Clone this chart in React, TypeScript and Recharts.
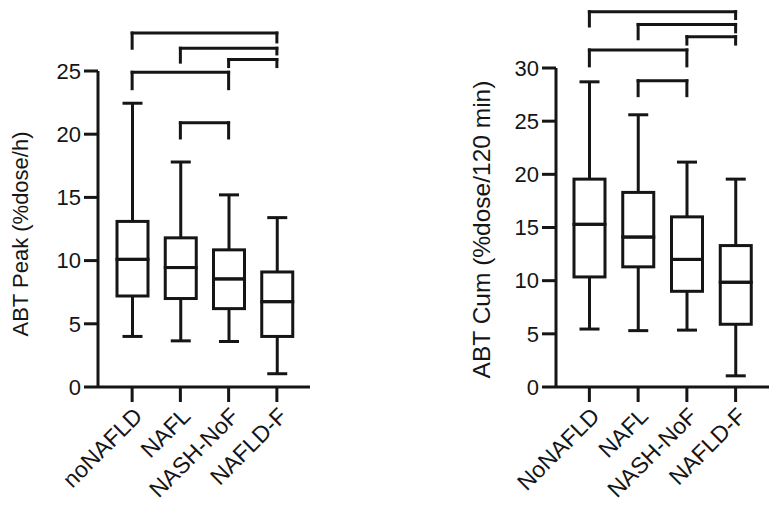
import React from 'react';
import { Bar, ComposedChart, ReferenceLine, XAxis, YAxis } from 'recharts';

const INK = '#151515';
const FONT = '"Liberation Sans", Arial, Helvetica, sans-serif';

// ABT Peak panel
const peakGroups = ['noNAFLD', 'NAFL', 'NASH-NoF', 'NAFLD-F'];
const peakMin = [4.0, 3.65, 3.6, 1.05];
const peakQ1 = [7.2, 7.0, 6.2, 4.0];
const peakMedian = [10.1, 9.45, 8.55, 6.75];
const peakQ3 = [13.1, 11.8, 10.85, 9.1];
const peakMax = [22.45, 17.8, 15.2, 13.4];
const peakTicks = [0, 5, 10, 15, 20, 25];

// ABT Cum panel
const cumGroups = ['NoNAFLD', 'NAFL', 'NASH-NoF', 'NAFLD-F'];
const cumMin = [5.45, 5.3, 5.35, 1.05];
const cumQ1 = [10.35, 11.3, 9.0, 5.9];
const cumMedian = [15.3, 14.1, 12.0, 9.85];
const cumQ3 = [19.55, 18.3, 16.0, 13.3];
const cumMax = [28.7, 25.6, 21.15, 19.55];
const cumTicks = [0, 5, 10, 15, 20, 25, 30];

// significance brackets: [from, to, bar level, left leg end, right leg end]
const peakBrackets = [
  [0, 3, 28.0, 26.8, 27.3],
  [1, 3, 26.8, 25.7, 26.35],
  [2, 3, 25.9, 25.35, 25.35],
  [0, 2, 24.9, 23.6, 23.6],
  [1, 2, 20.9, 19.7, 19.7],
];
const cumBrackets = [
  [0, 3, 35.3, 33.95, 34.65],
  [1, 3, 34.1, 32.75, 33.4],
  [2, 3, 32.95, 32.25, 32.25],
  [0, 2, 31.7, 30.2, 30.2],
  [1, 2, 28.8, 27.4, 27.4],
];

function toRows(groups: string[], min: number[], q1: number[], med: number[], q3: number[], max: number[]) {
  return groups.map((group, i) => ({
    group,
    base: min[i],
    lowWhisker: q1[i] - min[i],
    lowBox: med[i] - q1[i],
    highBox: q3[i] - med[i],
    highWhisker: max[i] - q3[i],
  }));
}

const CAP = 10;

function LowWhisker(props: any) {
  const { x, y, width, height } = props;
  const cx = x + width / 2;
  const bottom = y + height;
  return (
    <g>
      <line x1={cx} x2={cx} y1={y} y2={bottom} stroke={INK} strokeWidth={3} />
      <line x1={cx - CAP} x2={cx + CAP} y1={bottom} y2={bottom} stroke={INK} strokeWidth={3} />
    </g>
  );
}

function HighWhisker(props: any) {
  const { x, y, width, height } = props;
  const cx = x + width / 2;
  return (
    <g>
      <line x1={cx} x2={cx} y1={y} y2={y + height} stroke={INK} strokeWidth={3} />
      <line x1={cx - CAP} x2={cx + CAP} y1={y} y2={y} stroke={INK} strokeWidth={3} />
    </g>
  );
}

function BoxPart(props: any) {
  const { x, y, width, height } = props;
  return <rect x={x} y={y} width={width} height={height} fill="none" stroke={INK} strokeWidth={3} />;
}

function Nothing() {
  return <g />;
}

function AxisTitle(props: any) {
  const { viewBox, value, cx, dy, size } = props;
  const x = viewBox.x + cx;
  const y = viewBox.y + viewBox.height / 2 + dy;
  return (
    <text
      x={x}
      y={y}
      transform={`rotate(-90, ${x}, ${y})`}
      textAnchor="middle"
      dominantBaseline="central"
      fill={INK}
      fontSize={size}
      fontFamily={FONT}
    >
      {value}
    </text>
  );
}

function Panel(props: any) {
  const { rows, groups, ticks, brackets, title, titleX, titleDy, titleSize, width, margin, yWidth, pad } = props;
  const line = { stroke: INK, strokeWidth: 3 };
  return (
    <ComposedChart width={width} height={513} data={rows} margin={margin} barSize={31}>
      <XAxis
        dataKey="group"
        type="category"
        interval={0}
        height={126}
        padding={pad}
        axisLine={line}
        tickLine={line}
        tickSize={15}
        tickMargin={4}
        angle={-45}
        tick={{ fill: INK, fontSize: 23, fontFamily: FONT, textAnchor: 'end' }}
      />
      <YAxis
        type="number"
        domain={[0, ticks[ticks.length - 1]]}
        ticks={ticks}
        width={yWidth}
        axisLine={line}
        tickLine={line}
        tickSize={14}
        tickMargin={3}
        tick={{ fill: INK, fontSize: 22, fontFamily: FONT }}
        label={<AxisTitle value={title} cx={titleX} dy={titleDy} size={titleSize} />}
      />
      <Bar dataKey="base" stackId="b" shape={<Nothing />} isAnimationActive={false} />
      <Bar dataKey="lowWhisker" stackId="b" shape={<LowWhisker />} isAnimationActive={false} />
      <Bar dataKey="lowBox" stackId="b" shape={<BoxPart />} isAnimationActive={false} />
      <Bar dataKey="highBox" stackId="b" shape={<BoxPart />} isAnimationActive={false} />
      <Bar dataKey="highWhisker" stackId="b" shape={<HighWhisker />} isAnimationActive={false} />
      {brackets.flatMap(([a, b, top, l, r]: number[], i: number) => [
        <ReferenceLine
          key={`l${i}`}
          segment={[{ x: groups[a], y: l }, { x: groups[a], y: top }]}
          stroke={INK}
          strokeWidth={3}
          strokeLinecap="square"
          ifOverflow="visible"
        />,
        <ReferenceLine
          key={`h${i}`}
          segment={[{ x: groups[a], y: top }, { x: groups[b], y: top }]}
          stroke={INK}
          strokeWidth={3}
          strokeLinecap="square"
          ifOverflow="visible"
        />,
        <ReferenceLine
          key={`r${i}`}
          segment={[{ x: groups[b], y: top }, { x: groups[b], y: r }]}
          stroke={INK}
          strokeWidth={3}
          strokeLinecap="square"
          ifOverflow="visible"
        />,
      ])}
    </ComposedChart>
  );
}

export default function App() {
  const peakRows = toRows(peakGroups, peakMin, peakQ1, peakMedian, peakQ3, peakMax);
  const cumRows = toRows(cumGroups, cumMin, cumQ1, cumMedian, cumQ3, cumMax);
  return (
    <div style={{ position: 'absolute', left: 0, top: 0, width: 778, height: 513, background: '#fff' }}>
      <div style={{ position: 'absolute', left: 0, top: 0 }}>
        <Panel
          rows={peakRows}
          groups={peakGroups}
          ticks={peakTicks}
          brackets={peakBrackets}
          title="ABT Peak (%dose/h)"
          titleX={20}
          titleDy={5}
          titleSize={22}
          width={390}
          margin={{ top: 71, right: 80, bottom: 0, left: 0 }}
          yWidth={98}
          pad={{ left: 10, right: 9 }}
        />
      </div>
      <div style={{ position: 'absolute', left: 390, top: 0 }}>
        <Panel
          rows={cumRows}
          groups={cumGroups}
          ticks={cumTicks}
          brackets={cumBrackets}
          title="ABT Cum (%dose/120 min)"
          titleX={91}
          titleDy={2}
          titleSize={24.5}
          width={388}
          margin={{ top: 68, right: 9, bottom: 0, left: 0 }}
          yWidth={166}
          pad={{ left: 9, right: 9 }}
        />
      </div>
    </div>
  );
}
